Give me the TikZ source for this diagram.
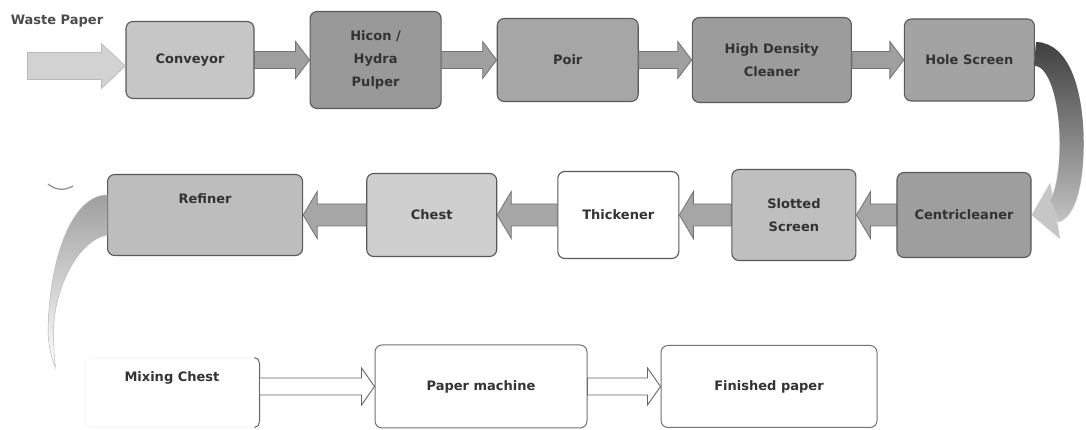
\documentclass[tikz,border=0pt]{standalone}
\usepackage{fontspec}
\setmainfont{DejaVu Sans}
\usetikzlibrary{positioning,calc,arrows.meta,fadings}

\begin{document}
\begin{tikzpicture}[x=1pt, y=1pt, font=\bfseries\fontsize{13}{23}\selectfont,
    stage/.style = {draw=black!65, line width=1.1pt, rounded corners=7pt, align=center, text=black!80, inner sep=0pt},
    blockto/.style n args = {3}{to path={let \p1=(\tikztostart), \p2=(\tikztotarget), \n1={\x2-sign(\x2-\x1)*#3} in
        (\x1,\y1+#1) -- (\n1,\y1+#1) -- (\n1,\y1+#2) -- (\x2,\y1) -- (\n1,\y1-#2) -- (\n1,\y1-#1) -- (\x1,\y1-#1) -- cycle}},
    toprow/.style = {blockto={8.5pt}{18.5pt}{14pt}, fill=gray!75, draw=black!55, line width=0.8pt},
    midrow/.style = {blockto={11pt}{23.5pt}{14pt}, fill=gray!70, draw=black!55, line width=0.8pt},
    lowrow/.style = {blockto={8.5pt}{18.5pt}{13pt}, fill=white, draw=black!60, line width=0.9pt},
    curvearr/.style = {line width=24pt, looseness=0.75}]
    \useasboundingbox (0,0) rectangle (1086,430);
    \fill[white] (0,0) rectangle (1086,430);

    % first row, left to right
    \node[stage, fill=gray!45, minimum width=128pt, minimum height=77pt] (conv) at (190,370) {Conveyor};
    \node[stage, fill=gray!80, minimum width=131pt, minimum height=97pt, right=55pt of conv] (hicon) {Hicon /\\Hydra\\Pulper};
    \node[stage, fill=gray!70, minimum width=141pt, minimum height=83pt, right=55pt of hicon] (poir) {Poir};
    \node[stage, fill=gray!78, minimum width=159pt, minimum height=85pt, right=53pt of poir] (hdc) {High Density\\Cleaner};
    \node[stage, fill=gray!72, minimum width=130pt, minimum height=82pt, right=52pt of hdc] (hole) {Hole Screen};

    % second row, right to left
    \node[stage, fill=gray!76, minimum width=134pt, minimum height=85pt] (centri) at (964,215) {Centricleaner};
    \node[stage, fill=gray!50, minimum width=124pt, minimum height=91pt, left=40pt of centri] (slotted) {Slotted\\Screen};
    \node[stage, fill=white, minimum width=121pt, minimum height=87pt, left=52pt of slotted] (thick) {Thickener};
    \node[stage, fill=gray!38, minimum width=130pt, minimum height=83pt, left=60pt of thick] (chest) {Chest};
    \node[stage, fill=gray!52, minimum width=195pt, text height=29pt, text depth=52pt, left=63pt of chest] (refiner) {Refiner};

    % third row
    \node[stage, draw=black!55, line width=1pt, fill=white, minimum width=212pt, minimum height=83pt] (paper) at (481,43.5) {Paper machine};
    \node[stage, draw=black!55, line width=1pt, fill=white, minimum width=216pt, minimum height=82pt, right=73pt of paper] (finished) {Finished paper};
    \node[stage, draw=black!3, fill=white, minimum width=174pt, text height=24pt, text depth=45pt, left=115pt of paper, yshift=-6pt] (mix) {Mixing Chest};
    \draw[black!60, line width=1pt] ([xshift=-5pt]mix.north east) to[out=0, in=90] ([yshift=-6pt]mix.north east)
        -- ([yshift=6pt]mix.south east) to[out=-90, in=0] ([xshift=-5pt]mix.south east);

    \node[text=black!70] (waste) at (57,409) {Waste Paper};
    \coordinate[below left=6pt and 98pt of conv.west] (wastein);
    \coordinate[below left=10pt and 29pt of mix.north west] (mixin);

    \draw[blockto={13.5pt}{22.5pt}{24pt}, fill=gray!35, draw=gray!55, line width=0.6pt] (wastein) to (conv.west);
    \draw[toprow] (conv.east) to (hicon.west);
    \draw[toprow] (hicon.east) to (poir.west);
    \draw[toprow] (poir.east) to (hdc.west);
    \draw[toprow] (hdc.east) to (hole.west);

    \draw[curvearr, gray!45, -{Triangle[length=24pt, width=56pt]}] ([yshift=6pt]hole.east) to[out=0, in=10] (centri.east);
    \draw[curvearr, black!75, path fading=south, shorten >=24pt] ([yshift=6pt]hole.east) to[out=0, in=10] (centri.east);

    \draw[midrow] (centri.west) to (slotted.east);
    \draw[midrow] (slotted.west) to (thick.east);
    \draw[midrow] (thick.west) to (chest.east);
    \draw[midrow] (chest.west) to (refiner.east);

    \shade[top color=gray!75, bottom color=white, draw=gray!55, line width=0.5pt]
        ([yshift=20pt]refiner.west) .. controls (75,235) and (50,180) .. (48,100) .. controls (48,85) and (52,70) .. (mixin)
        .. controls (53,85) and (53,105) .. (55,117) .. controls (60,150) and (80,190) .. ([yshift=-20pt]refiner.west) -- cycle;
    \draw[black!45, line width=1.2pt] (48,246) to[bend right=35] (73,244);

    \draw[lowrow] (mix.east |- paper.west) to (paper.west);
    \draw[lowrow] (paper.east) to (finished.west);
\end{tikzpicture}
\end{document}
